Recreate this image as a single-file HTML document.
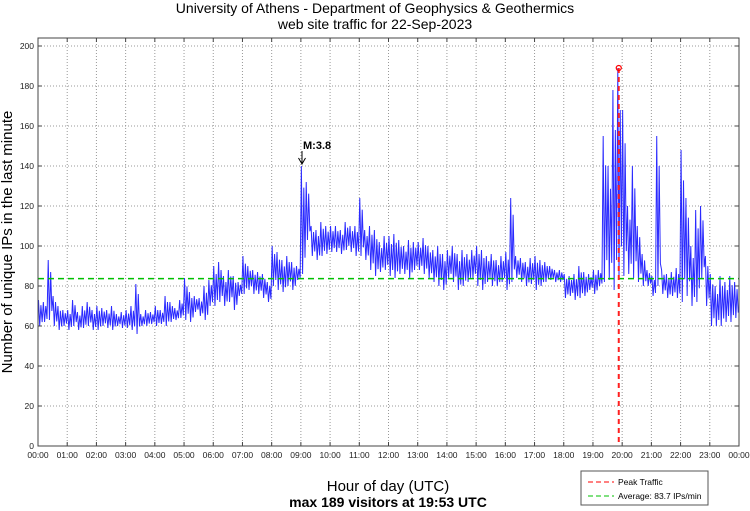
<!DOCTYPE html>
<html><head><meta charset="utf-8"><style>
body{margin:0;background:#fff;}
svg{display:block;font-family:"Liberation Sans",sans-serif;}
</style></head><body>
<svg id="chart" width="750" height="511" viewBox="0 0 750 511" xmlns="http://www.w3.org/2000/svg">
<text x="375" y="13" font-size="14" text-anchor="middle">University of Athens - Department of Geophysics &amp; Geothermics</text>
<text x="375" y="29" font-size="14" text-anchor="middle">web site traffic for 22-Sep-2023</text>
<g id="grid"></g>
<g id="series"></g>
<rect x="38" y="38" width="701" height="408" fill="none" stroke="#444" stroke-width="1"/>
<g id="ticks"></g>
<text transform="translate(12,242) rotate(-90)" font-size="15" text-anchor="middle">Number of unique IPs in the last minute</text>
<text x="388" y="491" font-size="15" text-anchor="middle">Hour of day (UTC)</text>
<text x="388" y="507" font-size="14" font-weight="bold" text-anchor="middle">max 189 visitors at 19:53 UTC</text>
<text x="303" y="149" font-size="11" font-weight="bold">M:3.8</text>
<line x1="302" y1="151" x2="302" y2="163" stroke="#000" stroke-width="1"/>
<path d="M298.5,158 L302,164 L305.5,158" fill="none" stroke="#000" stroke-width="1"/>
<g>
<rect x="581" y="471" width="127" height="34" fill="#fff" stroke="#555"/>
<line x1="588" y1="482" x2="614" y2="482" stroke="#f00" stroke-dasharray="5,3"/>
<text x="618" y="485" font-size="8.5">Peak Traffic</text>
<line x1="588" y1="496" x2="614" y2="496" stroke="#00c000" stroke-dasharray="5,3"/>
<text x="618" y="499" font-size="8.5">Average: 83.7 IPs/min</text>
</g>
</svg>
<script>
const hiVals=[73,72,93,75,70,68, 68,73,67,70,72,68, 70,69,68,70,66,67, 68,70,81,66,68,67, 70,68,75,72,69,73, 84,77,75,74,80,83,
90,92,85,88,85,82, 95,90,88,87,86,82, 100,97,93,95,92,90, 140,132,110,108,112,110, 110,110,108,112,110,110, 124,108,110,108,102,105,
105,106,103,100,103,102, 102,104,100,98,100,96, 98,100,96,98,96,98, 100,98,95,96,93,95, 97,124,95,94,92,94, 95,93,92,90,88,88,
86,85,86,90,87,86, 88,88,155,140,178,189, 168,120,140,110,96,88, 85,155,88,86,87,89, 148,124,100,118,120,95, 86,80,85,82,85,82];
const loVals=[60,62,63,60,58,60, 58,60,58,59,60,58, 58,60,59,58,60,59, 59,58,56,60,60,61, 60,61,60,62,63,64, 63,62,67,65,63,70,
70,72,70,72,68,75, 76,78,76,76,74,72, 80,78,77,80,78,83, 86,103,95,93,95,96, 97,97,96,98,97,95, 95,93,88,85,87,88,
85,84,86,86,84,88, 88,86,84,82,80,78, 84,82,78,80,82,84, 80,78,82,80,80,82, 78,82,84,82,80,81, 78,80,82,83,82,82,
74,75,73,74,75,78, 76,80,82,83,78,84, 85,86,84,82,80,80, 75,80,76,74,75,74, 72,75,70,72,84,70, 60,60,60,62,62,64];
const yTicks=[0,20,40,60,80,100,120,140,160,180,200];
const hourLabels=["00:00","01:00","02:00","03:00","04:00","05:00","06:00","07:00","08:00","09:00","10:00","11:00","12:00","13:00","14:00","15:00","16:00","17:00","18:00","19:00","20:00","21:00","22:00","23:00","00:00"];
const averageValue=83.7;
const peakValue=189;
const peakMinute=19*60+53;

const X0=38,X1=739,Y0=446,Y1=46;
const xs=m=>X0+(X1-X0)*m/1440;
const ys=v=>Y0-(Y0-Y1)*v/200;
const NS="http://www.w3.org/2000/svg";
function mk(tag,parent,attrs){const e=document.createElementNS(NS,tag);for(const k in attrs)e.setAttribute(k,attrs[k]);parent.appendChild(e);return e;}
const grid=document.getElementById('grid'),ticks=document.getElementById('ticks'),series=document.getElementById('series');
yTicks.forEach(v=>{
  const g=mk('line',grid,{x1:X0,x2:X1,y1:ys(v),y2:ys(v),stroke:'#999','stroke-dasharray':'1,2'});
  
  
  const t=mk('text',ticks,{x:X0-4,y:ys(v)+3,'font-size':'8.5','text-anchor':'end',fill:'#222'});
  t.textContent=v;
  
  
  mk('line',ticks,{x1:X0,x2:X0+4,y1:ys(v),y2:ys(v),stroke:'#444'});
  mk('line',ticks,{x1:X1-4,x2:X1,y1:ys(v),y2:ys(v),stroke:'#444'});
});
hourLabels.forEach((l,i)=>{
  const x=xs(i*60);
  const g=mk('line',grid,{x1:x,x2:x,y1:Y1-8,y2:Y0,stroke:'#999','stroke-dasharray':'1,2'});
  
  
  mk('line',ticks,{x1:x,x2:x,y1:Y0-4,y2:Y0,stroke:'#444'});
  mk('line',ticks,{x1:x,x2:x,y1:38,y2:42,stroke:'#444'});
  const t=mk('text',ticks,{x:x,y:Y0+12,'font-size':'8.5','text-anchor':'middle',fill:'#222'});
  t.textContent=l;
  
  
});
let d='';
hiVals.forEach((h,i)=>{
  const m=i*10,lo=loVals[i],mid=(h+lo)/2;
  d+=(i?'L':'M')+xs(m+1).toFixed(2)+','+ys(h).toFixed(2)
    +'L'+xs(m+3.5).toFixed(2)+','+ys(lo).toFixed(2)
    +'L'+xs(m+6).toFixed(2)+','+ys(mid+(h-lo)*0.3).toFixed(2)
    +'L'+xs(m+8.5).toFixed(2)+','+ys(lo+(h-lo)*0.15).toFixed(2);
});
const line=mk('path',series,{d:d,fill:'none',stroke:'#2a2aff','stroke-width':'1'});


const avg=mk('line',series,{x1:X0,x2:X1,y1:ys(averageValue),y2:ys(averageValue),stroke:'#00c000','stroke-width':'1.5','stroke-dasharray':'6,4'});


const pk=mk('line',series,{x1:xs(peakMinute),x2:xs(peakMinute),y1:ys(peakValue),y2:Y0,stroke:'#ff2020','stroke-width':'2','stroke-dasharray':'5,4'});


const pc=mk('circle',series,{cx:xs(peakMinute),cy:ys(peakValue),r:2.5,fill:'none',stroke:'#f00','stroke-width':'1.2'});


</script>
</body></html>
